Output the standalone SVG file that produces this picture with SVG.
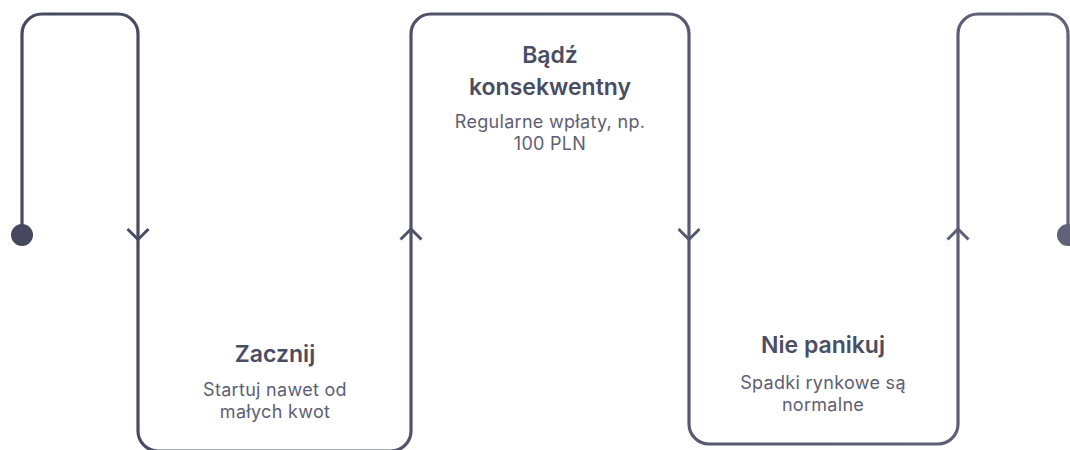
<svg xmlns="http://www.w3.org/2000/svg" width="1070" height="450" viewBox="0 0 1070 450">
  <defs>
    <linearGradient id="lineGrad" gradientUnits="userSpaceOnUse" x1="0" y1="0" x2="1070" y2="0">
      <stop offset="0" stop-color="#45485f"/>
      <stop offset="1" stop-color="#5f6279"/>
    </linearGradient>
    <style>
      .track { fill: none; stroke: url(#lineGrad); stroke-width: 3.2; stroke-linecap: round; stroke-linejoin: round; }
      .chev { fill: none; stroke-width: 3; stroke-linecap: butt; stroke-linejoin: miter; }
      .title { font-family: Inter, "Liberation Sans", sans-serif; font-weight: 600; font-size: 23px; fill: #4a4d63; text-anchor: middle; }
      .sub { font-family: Inter, "Liberation Sans", sans-serif; font-weight: 400; font-size: 18px; letter-spacing: 0.3px; fill: #5d6075; text-anchor: middle; }
    </style>
  </defs>
  <rect width="1070" height="450" fill="#ffffff"/>

  <g id="connectors">
    <path class="track" d="M22,235 V34 A20,20 0 0 1 42,14 H118 A20,20 0 0 1 138,34 V431 A20,20 0 0 0 158,451 H391 A20,20 0 0 0 411,431 V34 A20,20 0 0 1 431,14 H669 A20,20 0 0 1 689,34 V424 A20,20 0 0 0 709,444 H938 A20,20 0 0 0 958,424 V34 A20,20 0 0 1 978,14 H1048 A20,20 0 0 1 1068,34 V235"/>
    <path class="chev" stroke="#484b62" d="M127.5,229 L138,239.5 L148.5,229"/>
    <path class="chev" stroke="#4f526a" d="M400.5,239.5 L411,229 L421.5,239.5"/>
    <path class="chev" stroke="#54576e" d="M678.5,229 L689,239.5 L699.5,229"/>
    <path class="chev" stroke="#5a5d74" d="M947.5,239.5 L958,229 L968.5,239.5"/>
  </g>

  <g id="start">
    <circle cx="22" cy="235" r="11" fill="#45485f"/>
  </g>
  <g id="end">
    <circle cx="1068" cy="235" r="11" fill="#5f6279"/>
  </g>

  <g id="node-zacznij">
    <text class="title" x="275" y="362">Zacznij</text>
    <text class="sub" x="275" y="396">Startuj nawet od</text>
    <text class="sub" x="275" y="418">małych kwot</text>
  </g>

  <g id="node-badz">
    <text class="title" x="550" y="63">Bądź</text>
    <text class="title" x="550" y="94.5">konsekwentny</text>
    <text class="sub" x="550" y="128">Regularne wpłaty, np.</text>
    <text class="sub" x="550" y="150">100 PLN</text>
  </g>

  <g id="node-nie-panikuj">
    <text class="title" x="823" y="353">Nie panikuj</text>
    <text class="sub" x="823" y="388.5">Spadki rynkowe są</text>
    <text class="sub" x="823" y="411">normalne</text>
  </g>
</svg>
